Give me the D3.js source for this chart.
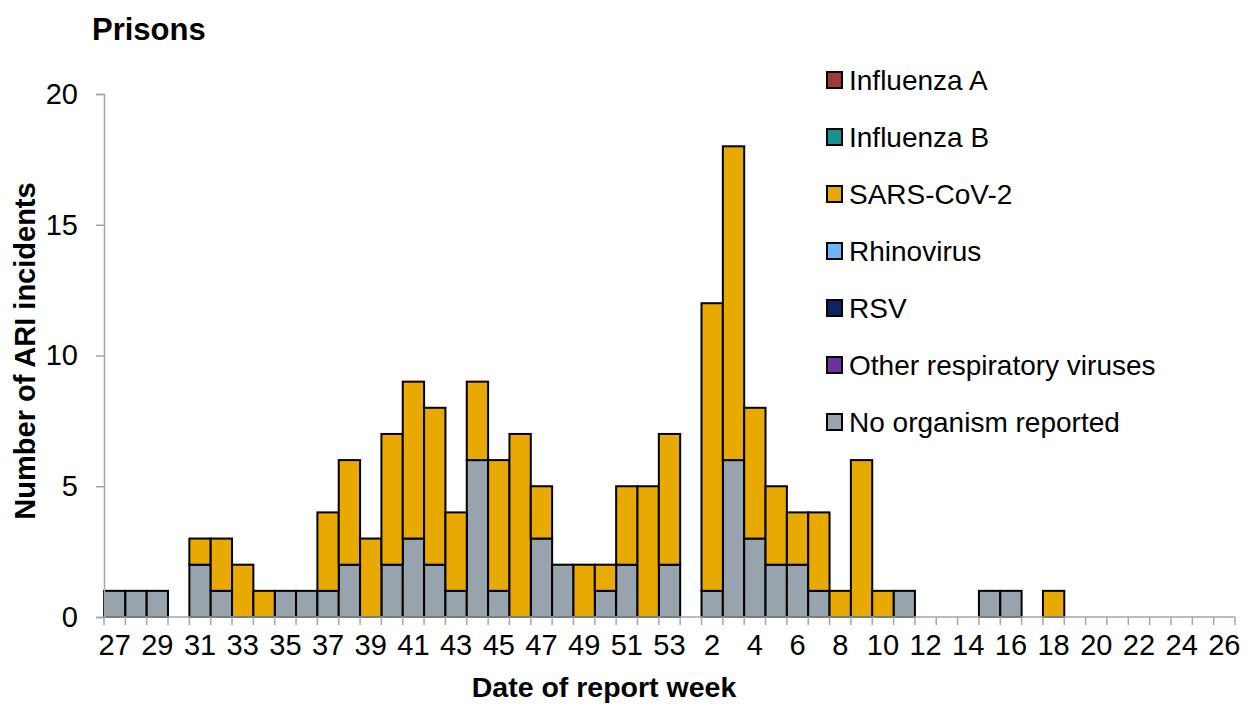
<!DOCTYPE html>
<html>
<head>
<meta charset="utf-8">
<script src="https://cdn.jsdelivr.net/npm/d3@7"></script>
<style>
  body { margin: 0; background: #fff; }
  text { font-family: "Liberation Sans", Arial, sans-serif; }
</style>
</head>
<body>
<div id="chart"></div>
<script>
const width = 1243,
      height = 705;

// report weeks: 27..53 then 1..26
const weeks = [27,28,29,30,31,32,33,34,35,36,37,38,39,40,41,42,43,44,45,46,47,48,49,50,51,52,53,
               1,2,3,4,5,6,7,8,9,10,11,12,13,14,15,16,17,18,19,20,21,22,23,24,25,26]
const tickWeeks = [27,29,31,33,35,37,39,41,43,45,47,49,51,53,2,4,6,8,10,12,14,16,18,20,22,24,26]

const series = ["Influenza A", "Influenza B", "SARS-CoV-2", "Rhinovirus", "RSV",
                "Other respiratory viruses", "No organism reported"]
const colors = ["#9C3B35", "#14948F", "#E8A900", "#6CB5F7", "#0B2463", "#7031A0", "#97A3AD"]

const noOrganism = [1,1,1,0,2,1,0,0,1,1,1,2,0,2,3,2,1,6,1,0,3,2,0,1,2,0,2,
                    0,1,6,3,2,2,1,0,0,0,1,0,0,0,1,1,0,0,0,0,0,0,0,0,0,0]
const sarsCov2 =   [0,0,0,0,1,2,2,1,0,0,3,4,3,5,6,6,3,3,5,7,2,0,2,1,3,5,5,
                    0,11,12,5,3,2,3,1,6,1,0,0,0,0,0,0,0,1,0,0,0,0,0,0,0,0]
const zeros = weeks.map(() => 0)
const fluA = zeros, fluB = zeros, rhino = zeros, rsv = zeros, other = zeros

// stacking order: No organism at bottom, then SARS-CoV-2, then the rest
const stackKeys = ["No organism reported", "SARS-CoV-2", "Influenza A", "Influenza B",
                   "Rhinovirus", "RSV", "Other respiratory viruses"]
const table = weeks.map((w, i) => ({
  week: i,
  "Influenza A": fluA[i],
  "Influenza B": fluB[i],
  "SARS-CoV-2": sarsCov2[i],
  "Rhinovirus": rhino[i],
  "RSV": rsv[i],
  "Other respiratory viruses": other[i],
  "No organism reported": noOrganism[i]
}))

const color = d3.scaleOrdinal().domain(series).range(colors)

const plotLeft = 104, plotRight = 1235, plotTop = 94, plotBottom = 617

const x = d3.scaleBand()
  .domain(d3.range(weeks.length))
  .range([plotLeft, plotRight])
  .padding(0)

const y = d3.scaleLinear()
  .domain([0, 20])
  .range([plotBottom, plotTop])

const svg = d3.select("#chart")
  .append("svg")
    .attr("width", width)
    .attr("height", height)

// bars
const stacked = d3.stack().keys(stackKeys)(table)
svg.append("g")
  .selectAll("g")
  .data(stacked)
  .join("g")
    .attr("fill", d => color(d.key))
  .selectAll("rect")
  .data(d => d.filter(p => p[1] - p[0] > 0))
  .join("rect")
    .attr("x", d => x(d.data.week))
    .attr("width", x.bandwidth())
    .attr("y", d => y(d[1]))
    .attr("height", d => y(d[0]) - y(d[1]))
    .attr("stroke", "#000")
    .attr("stroke-width", 2)

// y axis
const yAxis = svg.append("g")
  .attr("transform", `translate(${plotLeft},0)`)
  .call(d3.axisLeft(y).tickValues([0,5,10,15,20]).tickSize(8).tickPadding(18))
yAxis.select(".domain").attr("stroke", "#a6a6a6").attr("stroke-width", 1.5)
yAxis.selectAll(".tick line").attr("stroke", "#a6a6a6").attr("stroke-width", 1.5)
yAxis.selectAll("text").attr("font-size", 29).attr("fill", "#000")

// x axis: ticks at category boundaries
const xLine = svg.append("g")
  .attr("transform", `translate(0,${plotBottom})`)
xLine.append("line")
  .attr("x1", plotLeft).attr("x2", plotRight)
  .attr("stroke", "#a6a6a6").attr("stroke-width", 1.5)
xLine.selectAll("line.tk")
  .data(d3.range(weeks.length + 1))
  .join("line")
    .attr("class", "tk")
    .attr("x1", i => plotLeft + i * x.step())
    .attr("x2", i => plotLeft + i * x.step())
    .attr("y1", 0).attr("y2", 8)
    .attr("stroke", "#a6a6a6").attr("stroke-width", 1.5)
xLine.selectAll("text")
  .data(tickWeeks)
  .join("text")
    .attr("x", w => x(weeks.indexOf(w)) + x.bandwidth() / 2)
    .attr("y", 38)
    .attr("text-anchor", "middle")
    .attr("font-size", 29)
    .text(w => w)

// titles
svg.append("text")
  .attr("x", 92).attr("y", 40)
  .attr("font-size", 31).attr("font-weight", "bold")
  .text("Prisons")

svg.append("text")
  .attr("transform", `translate(35,351) rotate(-90)`)
  .attr("text-anchor", "middle")
  .attr("font-size", 29).attr("font-weight", "bold")
  .text("Number of ARI incidents")

svg.append("text")
  .attr("x", 604).attr("y", 697)
  .attr("text-anchor", "middle")
  .attr("font-size", 28.5).attr("font-weight", "bold")
  .text("Date of report week")

// legend
const legend = svg.append("g")
  .selectAll("g")
  .data(series)
  .join("g")
    .attr("transform", (d, i) => `translate(827,${80 + i * 57})`)
legend.append("rect")
  .attr("x", 0).attr("y", -8)
  .attr("width", 15).attr("height", 16)
  .attr("fill", d => color(d))
  .attr("stroke", "#000").attr("stroke-width", 2)
legend.append("text")
  .attr("x", 22).attr("y", 10)
  .attr("font-size", 28)
  .text(d => d)
</script>
</body>
</html>
